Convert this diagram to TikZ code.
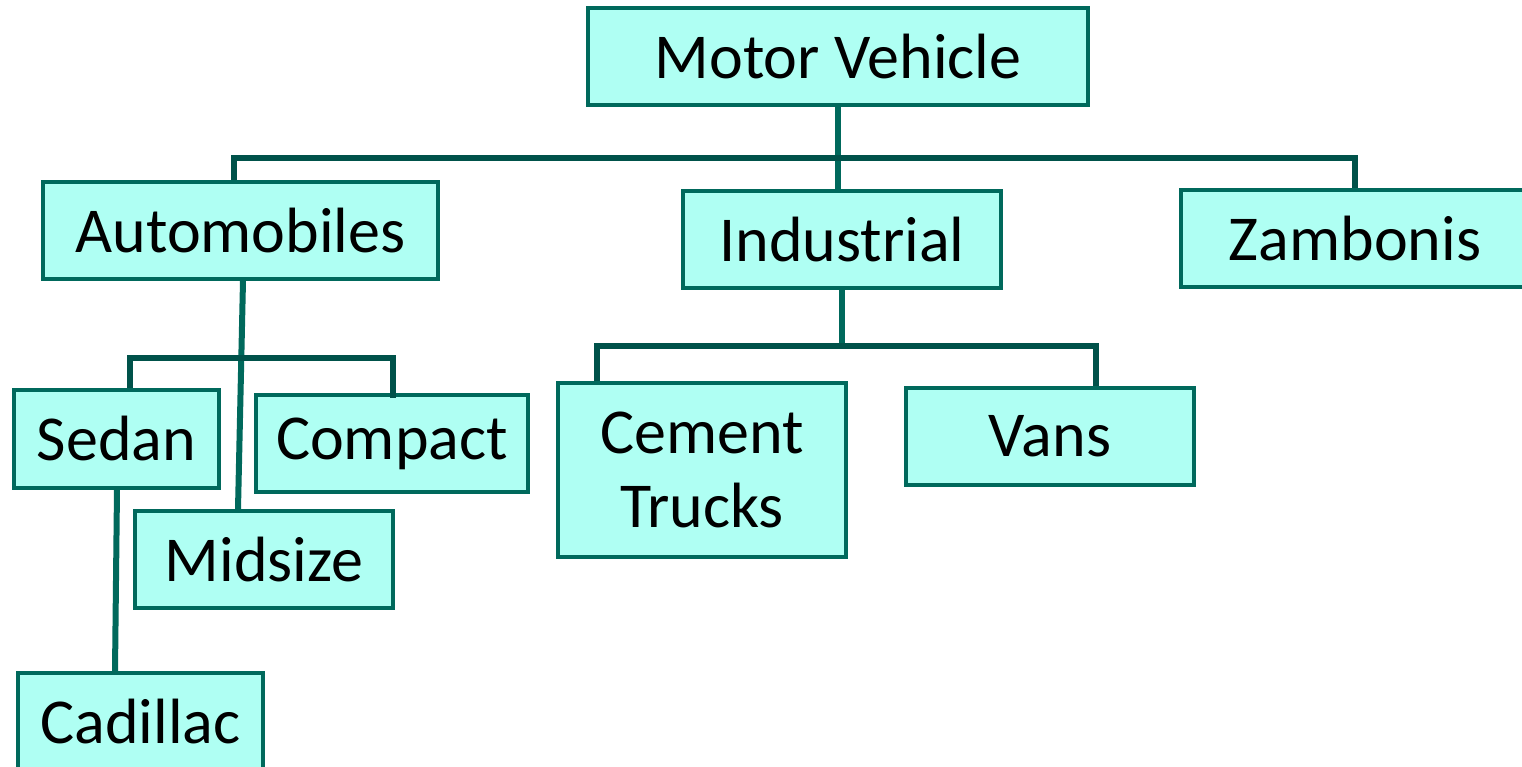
\documentclass[tikz,border=0pt]{standalone}
\usepackage{fontspec}
\setmainfont{Carlito}
\definecolor{boxfill}{HTML}{AFFFF3}
\definecolor{boxedge}{HTML}{00695C}
\definecolor{stem}{HTML}{00695C}
\definecolor{barline}{HTML}{00524A}
\tikzset{
  box/.style={draw=boxedge, fill=boxfill, line width=3.5pt, inner sep=0pt,
    font=\fontsize{64}{74}\selectfont, align=center},
  stemline/.style={draw=stem, line width=6pt},
  barpath/.style={draw=barline, line width=6pt, line join=miter},
}
\begin{document}
\begin{tikzpicture}[x=1pt,y=-1pt]
\useasboundingbox (0,0) rectangle (1522,767);

% boxes
\node[box, minimum width=500pt, minimum height=97pt] (mv)   at (838,56.5)   {Motor Vehicle};
\node[box, minimum width=395pt, minimum height=97pt] (auto) at (240.5,230.5) {Automobiles};
\node[box, minimum width=318pt, minimum height=97pt] (ind)  at (842,239.5)  {Industrial};
\node[box, minimum width=348pt, minimum height=97pt] (zam)  at (1355,238.5) {Zambonis};
\node[box, minimum width=205pt, minimum height=98pt] (sed)  at (116.5,439)  {Sedan};
\node[box, minimum width=272pt, minimum height=97pt] (comp) at (392,443.5)  {Compact};
\node[box, minimum width=258pt, minimum height=97pt] (mid)  at (264,559.5)  {Midsize};
\node[box, minimum width=245pt, minimum height=97pt] (cad)  at (140.5,721.5) {Cadillac};
\node[box, minimum width=288pt, minimum height=174pt] (cem) at (702,470)    {Cement\\Trucks};
\node[box, minimum width=288pt, minimum height=97pt] (vans) at (1050,436.5) {Vans};

% junction points of the branch bars
\coordinate (j1) at (838,158);
\coordinate (j2) at (240,358);
\coordinate (j3) at (842,346);

% top level
\draw[stemline] (mv.south) -- (mv.south |- ind.north);
\draw[barpath] ([xshift=-6.5pt]auto.north) |- (j1) -| (zam.north);

% automobiles
\draw[stemline] ([xshift=2.5pt]auto.south) -- ([xshift=-26pt]mid.north);
\draw[barpath] ([xshift=13.5pt]sed.north) |- (j2) -| ([xshift=1pt,yshift=-5pt]comp.north);
\draw[stemline] ([xshift=0.5pt]sed.south) -- ([xshift=-25.5pt]cad.north);

% industrial
\draw[stemline] (ind.south) -- (j3);
\draw[barpath] ([xshift=-105pt]cem.north) |- (j3) -| ([xshift=46pt]vans.north);
\end{tikzpicture}
\end{document}
